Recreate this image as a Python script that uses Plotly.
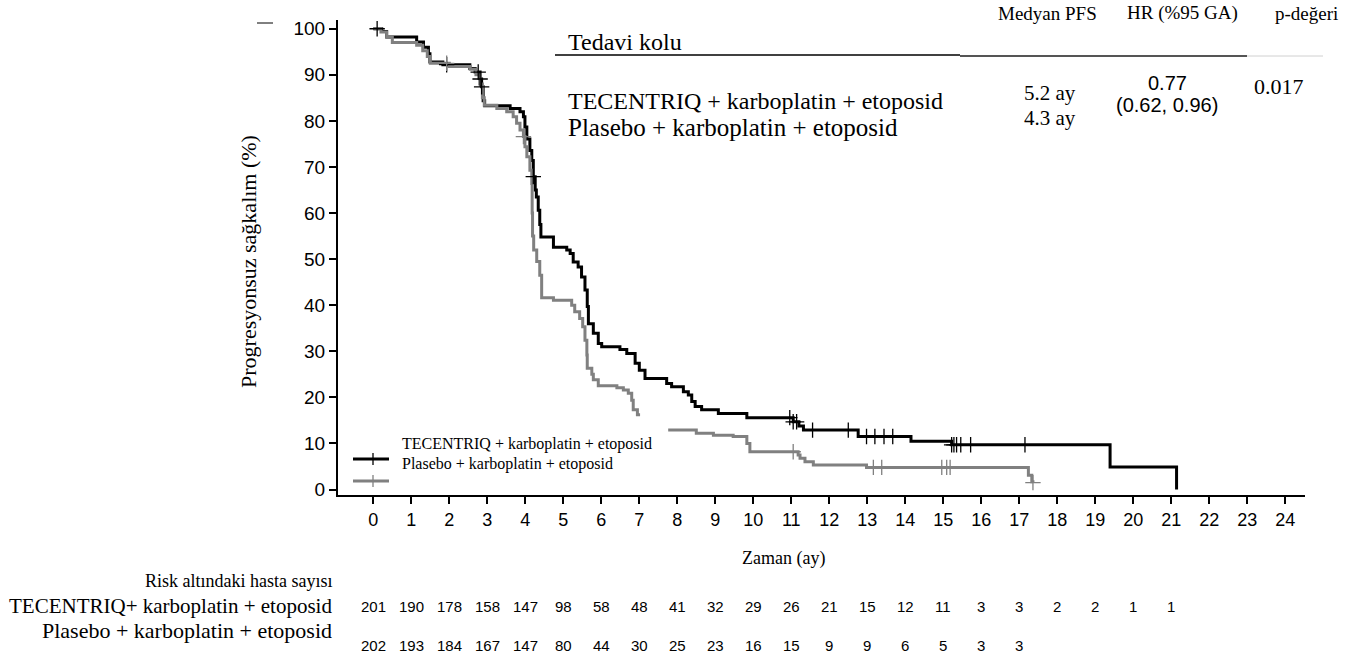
import plotly.graph_objects as go

# ---------------- data ----------------
months = list(range(0, 25))
y_ticks = list(range(0, 101, 10))

tec_name = "TECENTRIQ + karboplatin + etoposid"
pla_name = "Plasebo + karboplatin + etoposid"

# Kaplan-Meier steps (time in months, PFS %)
tec_t = [0, 0.22, 0.35, 1.14, 1.32, 1.45, 1.49, 1.83, 2.54, 2.68, 2.81, 2.85, 2.89, 2.93,
         3.6, 3.86, 3.95, 3.99, 4.04, 4.12, 4.17, 4.21, 4.26, 4.29, 4.34, 4.38, 4.41, 4.74,
         5.09, 5.18, 5.26, 5.39, 5.48, 5.57, 5.63, 5.66, 5.79, 5.92, 6.01, 6.49, 6.67, 6.89,
         7.0, 7.15, 7.72, 7.85, 8.16, 8.29, 8.38, 8.47, 8.64, 9.08, 9.83, 11.05, 11.2, 11.32,
         12.76, 14.15, 15.22, 19.39, 21.14]
tec_s = [100, 99.4, 98.2, 97.1, 96.0, 94.6, 92.8, 92.2, 91.4, 90.6, 89.1, 87.4, 84.4, 83.3,
         82.7, 82.0, 80.9, 78.7, 76.1, 73.6, 71.4, 67.9, 65.0, 63.5, 60.6, 57.5, 54.8, 52.6,
         52.0, 51.2, 49.4, 48.3, 46.1, 43.3, 39.7, 36.0, 33.9, 31.7, 31.0, 30.4, 29.5, 27.4,
         25.9, 24.1, 23.0, 22.3, 21.2, 20.5, 19.1, 18.0, 17.3, 16.5, 15.6, 14.7, 13.8, 12.9,
         11.5, 10.5, 9.7, 4.9, 0.0]
tec_cens = [0.1, 1.93, 2.76, 2.81, 2.85, 4.21, 10.96, 11.05, 11.14, 11.56, 12.5, 12.98,
            13.2, 13.44, 13.67, 15.22, 15.28, 15.35, 15.46, 15.72, 17.15]

pla_t = [0, 0.2, 0.35, 0.5, 1.14, 1.3, 1.42, 1.5, 2.0, 2.55, 2.7, 2.8, 2.87, 2.92, 3.25,
         3.51, 3.68, 3.77, 3.86, 3.95, 3.99, 4.04, 4.12, 4.17, 4.18, 4.19, 4.22, 4.3, 4.38,
         4.43, 4.74, 5.22, 5.3, 5.43, 5.51, 5.57, 5.62, 5.63, 5.75, 5.79, 5.92, 6.41, 6.58,
         6.71, 6.8, 6.84, 6.95, 7.02, None, 7.76, 8.5, 8.95, 9.47, 9.83, 9.91, 11.18, 11.23,
         11.36, 11.58, 12.98, 17.24, 17.33, 17.36]
pla_s = [100, 99.3, 98.3, 97.0, 96.4, 95.2, 94.0, 92.5, 91.8, 91.2, 90.0, 88.0, 85.0, 83.4,
         82.7, 82.0, 80.9, 79.5, 78.0, 76.6, 74.4, 72.2, 69.3, 66.4, 60.0, 55.0, 52.0, 49.5,
         46.5, 41.6, 41.1, 40.0, 38.6, 37.1, 35.3, 32.4, 29.2, 26.3, 25.0, 23.8, 22.5, 22.1,
         21.6, 20.9, 19.4, 17.3, 16.2, 16.2, None, 12.9, 12.2, 11.8, 11.5, 10.0, 8.2, 7.5,
         6.8, 6.0, 5.3, 4.8, 3.1, 1.7, 1.5]
pla_cens = [1.93, 3.95, 11.05, 13.16, 13.38, 14.96, 15.09, 15.18, 17.36]

risk_tec = [201, 190, 178, 158, 147, 98, 58, 48, 41, 32, 29, 26, 21, 15, 12, 11, 3, 3, 2, 2, 1, 1]
risk_pla = [202, 193, 184, 167, 147, 80, 44, 30, 25, 23, 16, 15, 9, 9, 6, 5, 3, 3]

table_header = ["Medyan PFS", "HR (%95 GA)", "p-değeri"]
median_pfs = ["5.2 ay", "4.3 ay"]
hr_text = ["0.77", "(0.62, 0.96)"]
p_value = "0.017"

# ---------------- layout helpers ----------------
W, H = 1350, 660
L, R, T, B = 338, 45, 20, 165
PW, PH = W - L - R, H - T - B
SERIF = "Liberation Serif, Times New Roman, serif"
SANS = "Liberation Sans, Arial, sans-serif"
BLACK = "#000000"
GREY = "#808080"


def px(x):
    return (x - L) / PW


def py(y):
    return (H - B - y) / PH


def surv_at(ts, ss, t):
    val = None
    for ti, si in zip(ts, ss):
        if ti is None:
            continue
        if ti <= t:
            val = si
    return val


fig = go.Figure()

fig.add_trace(go.Scatter(x=tec_t, y=tec_s, mode="lines", line=dict(color=BLACK, width=3, shape="hv"),
                         name=tec_name, showlegend=False, connectgaps=False))
fig.add_trace(go.Scatter(x=pla_t, y=pla_s, mode="lines", line=dict(color=GREY, width=3, shape="hv"),
                         name=pla_name, showlegend=False, connectgaps=False))
fig.add_trace(go.Scatter(x=tec_cens, y=[surv_at(tec_t, tec_s, t) for t in tec_cens], mode="markers",
                         marker=dict(symbol="cross-thin", size=11, line=dict(color=BLACK, width=1.3)),
                         showlegend=False))
fig.add_trace(go.Scatter(x=pla_cens, y=[surv_at(pla_t, pla_s, t) for t in pla_cens], mode="markers",
                         marker=dict(symbol="cross-thin", size=11, line=dict(color=GREY, width=1.3)),
                         showlegend=False))

ann = []
shapes = []


def text(txt, x, y, size, family=SERIF, xanchor="center", xref="paper", angle=0):
    ann.append(dict(text=txt, x=x, y=py(y), xref=xref, yref="paper", showarrow=False, textangle=angle,
                    font=dict(family=family, size=size, color=BLACK), xanchor=xanchor, yanchor="middle"))


# axis titles
text("Progresyonsuz sağkalım (%)", px(248), 262, 22, angle=-90)
text("Zaman (ay)", px(783), 558, 18)

# in-plot legend
text(tec_name, px(400), 444, 16, xanchor="left")
text(pla_name, px(400), 464, 16, xanchor="left")
for yy, col in [(459, BLACK), (481, GREY)]:
    shapes.append(dict(type="line", xref="paper", yref="paper", x0=px(353), x1=px(389), y0=py(yy), y1=py(yy),
                       line=dict(color=col, width=3)))
    shapes.append(dict(type="line", xref="paper", yref="paper", x0=px(373), x1=px(373), y0=py(yy - 6),
                       y1=py(yy + 6), line=dict(color=col, width=1.3)))

# small dash top-left
shapes.append(dict(type="line", xref="paper", yref="paper", x0=px(257), x1=px(273), y0=py(23), y1=py(23),
                   line=dict(color=BLACK, width=1)))

# summary table
for txt, cx in zip(table_header, [1047, 1182, 1306]):
    text(txt, px(cx), 13, 19)
text("Tedavi kolu", px(566), 42, 24, xanchor="left")
shapes.append(dict(type="line", xref="paper", yref="paper", x0=px(555), x1=px(960), y0=py(55), y1=py(55),
                   line=dict(color=BLACK, width=1.3)))
shapes.append(dict(type="line", xref="paper", yref="paper", x0=px(960), x1=px(1247), y0=py(56), y1=py(56),
                   line=dict(color="#555555", width=2)))
shapes.append(dict(type="line", xref="paper", yref="paper", x0=px(1247), x1=px(1323), y0=py(56), y1=py(56),
                   line=dict(color="#d0d0d0", width=1)))
text(tec_name, px(566), 101, 24, xanchor="left")
text(pla_name, px(566), 127, 25, xanchor="left")
for txt, yy in zip(median_pfs, [93, 118]):
    text(txt, px(1050), yy, 21)
for txt, yy in zip(hr_text, [83, 105]):
    text(txt, px(1167), yy, 20, family=SANS)
text(p_value, px(1279), 87, 22)

# risk table
for txt, yy, sz in zip(["Risk altındaki hasta sayısı", "TECENTRIQ+ karboplatin + etoposid", pla_name],
                       [581, 606, 630], [18, 21, 22]):
    text(txt, px(334), yy, sz, xanchor="right")
for i, v in enumerate(risk_tec):
    text(str(v), months[i], 606, 15, family=SANS, xref="x")
for i, v in enumerate(risk_pla):
    text(str(v), months[i], 645, 15, family=SANS, xref="x")

fig.update_layout(
    width=W, height=H, autosize=False,
    margin=dict(l=L, r=R, t=T, b=B, pad=0),
    paper_bgcolor="white", plot_bgcolor="white",
    showlegend=False,
    annotations=ann, shapes=shapes,
    xaxis=dict(range=[-0.93, 24.52], tickvals=months, ticktext=[str(m) for m in months],
               showgrid=False, zeroline=False, showline=True, linecolor=BLACK, linewidth=2,
               ticks="outside", ticklen=7, tickwidth=1.5, tickcolor=BLACK,
               tickfont=dict(family=SANS, size=18, color=BLACK)),
    yaxis=dict(range=[-1.19, 101.9], tickvals=y_ticks, ticktext=[str(v) for v in y_ticks],
               showgrid=False, zeroline=False, showline=True, linecolor=BLACK, linewidth=2,
               ticks="outside", ticklen=7, tickwidth=1.5, tickcolor=BLACK,
               tickfont=dict(family=SANS, size=19, color=BLACK)),
)

fig.write_html("out.html")
